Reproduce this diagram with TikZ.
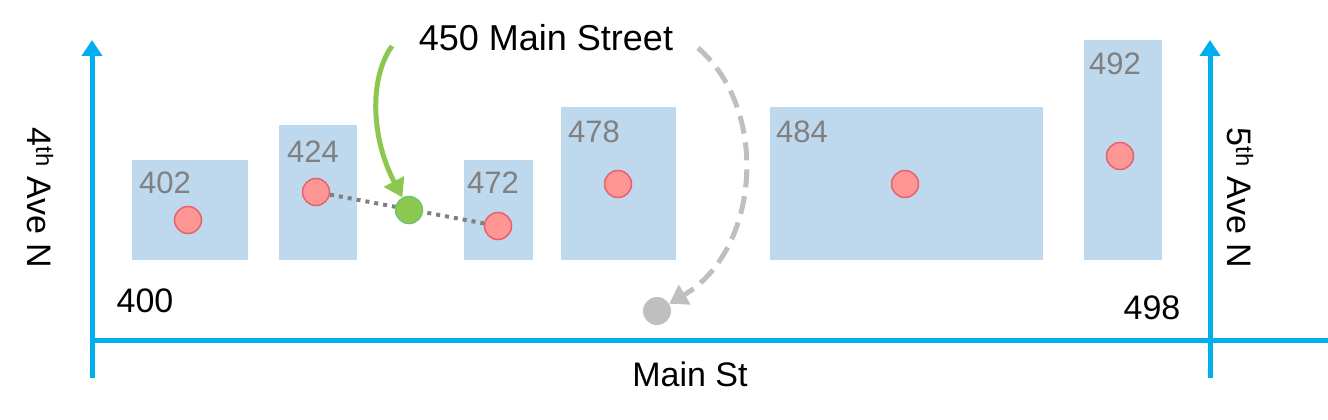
\documentclass[tikz,border=0pt]{standalone}
\usepackage{fontspec}
\setmainfont{Liberation Sans}
\usetikzlibrary{arrows.meta}
\definecolor{road}{RGB}{0,174,239}
\definecolor{lot}{RGB}{190,216,238}
\definecolor{lotnum}{RGB}{128,128,128}
\definecolor{pin}{RGB}{255,150,150}
\definecolor{pinedge}{RGB}{232,96,106}
\definecolor{geo}{RGB}{140,200,80}
\begin{document}
\begin{tikzpicture}[x=1pt,y=-1pt,
  street/.style={draw=road, line width=5pt},
  building/.style={fill=lot},
  lotlabel/.style={anchor=north west, text=lotnum, font=\fontsize{31}{31}\selectfont, inner sep=0pt},
  parcel/.style={circle, fill=pin, draw=pinedge, line width=1.5pt, minimum size=27pt, inner sep=0pt},
  txt/.style={font=\fontsize{34}{34}\selectfont, inner sep=0pt}]
  \useasboundingbox (0,0) rectangle (1328,420);
  % streets
  \draw[street, -{Triangle[length=16pt,width=20pt]}] (92,378) -- (92,40);
  \draw[street, -{Triangle[length=16pt,width=20pt]}] (1210,378) -- (1210,40);
  \draw[street] (92,340) -- (1328,340);
  \node[txt, rotate=-90] (ave4) at (40,198) {4\textsuperscript{th} Ave N};
  \node[txt, rotate=-90] (ave5) at (1240,198) {5\textsuperscript{th} Ave N};
  \node[txt] (main) at (690,374) {Main St};
  \node[txt] (n400) at (145,301) {400};
  \node[txt] (n498) at (1152,308) {498};
  % buildings
  \fill[building] (132,160) rectangle (248,260);
  \fill[building] (279,125) rectangle (357,260);
  \fill[building] (464,160) rectangle (533,260);
  \fill[building] (561,107) rectangle (676,260);
  \fill[building] (770,107) rectangle (1043,260);
  \fill[building] (1084,40) rectangle (1162,260);
  \node[lotlabel] (l402) at (139,172) {402};
  \node[lotlabel] (l424) at (287,141) {424};
  \node[lotlabel] (l472) at (467,172) {472};
  \node[lotlabel] (l478) at (568,121) {478};
  \node[lotlabel] (l484) at (776,121) {484};
  \node[lotlabel] (l492) at (1089,53) {492};
  % parcels
  \node[parcel] (p402) at (188,220) {};
  \node[parcel] (p424) at (316,192) {};
  \node[parcel] (p472) at (498,226) {};
  \node[parcel] (p478) at (618,184) {};
  \node[parcel] (p484) at (905,184) {};
  \node[parcel] (p492) at (1120,156) {};
  \draw[lotnum, line width=4pt, dash pattern=on 4pt off 5pt] (p424) -- (p472);
  \node[circle, fill=geo, draw=geo!80!road, line width=1.5pt, minimum size=27pt, inner sep=0pt] (hit) at (409,210) {};
  \node[circle, fill=black!25, minimum size=28pt, inner sep=0pt] (street) at (657,311) {};
  % address
  \node[txt, font=\fontsize{36}{36}\selectfont] (addr) at (546,38) {450 Main Street};
  \draw[geo, line width=5pt, -{Triangle[length=18pt,width=22pt]}] (392,46) .. controls (368,80) and (372,140) .. (hit);
  \draw[black!25, line width=5pt, dash pattern=on 18pt off 9pt, -{Triangle[length=18pt,width=22pt]}] (698,48) .. controls (770,110) and (760,250) .. (street);
\end{tikzpicture}
\end{document}
